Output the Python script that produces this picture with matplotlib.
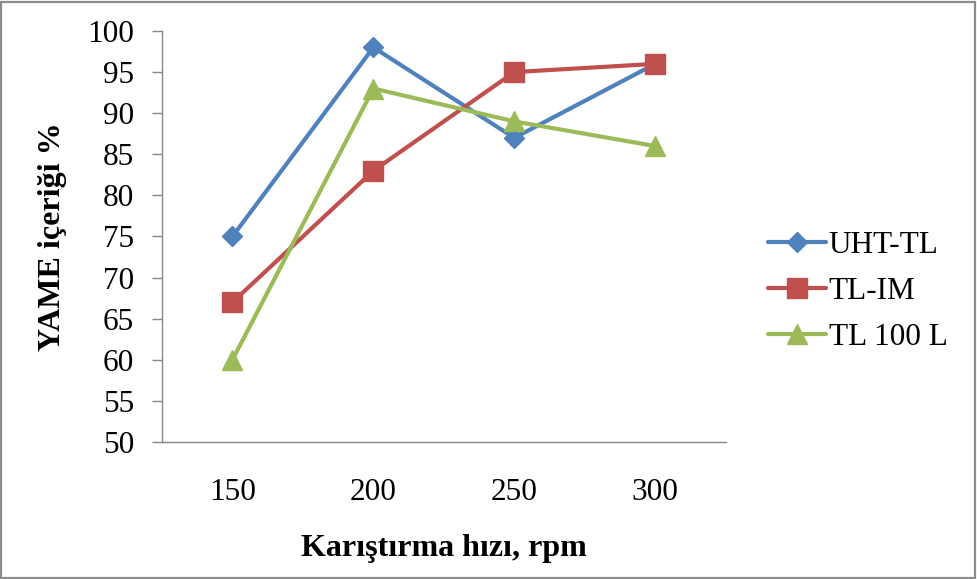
import matplotlib
matplotlib.use("Agg")
import matplotlib.pyplot as plt
from matplotlib.patches import Rectangle

# stirring speed (rpm) vs. FAME content for three lipase preparations
speeds = ["150", "200", "250", "300"]
uht_tl = [75, 98, 87, 96]
tl_im = [67, 83, 95, 96]
tl_100l = [60, 93, 89, 86]
series_names = ["UHT-TL", "TL-IM", "TL 100 L"]
y_ticks = [50, 55, 60, 65, 70, 75, 80, 85, 90, 95, 100]

COLORS = ["#4F81BD", "#C0504D", "#9BBB59"]
MARKERS = [("D", 10.5), ("s", 14), ("^", 14)]
FS = 22.5

plt.rcParams["font.family"] = ["Liberation Serif", "DejaVu Serif"]

fig = plt.figure(figsize=(9.77, 5.79), dpi=100)
ax = fig.add_axes([0.1658, 0.2366, 0.577, 0.7099])

x = list(range(len(speeds)))
for vals, name, col, (mk, ms) in zip([uht_tl, tl_im, tl_100l], series_names, COLORS, MARKERS):
    ax.plot(x, vals, color=col, lw=3.0, marker=mk, markersize=ms,
            markerfacecolor=col, markeredgecolor=col, label=name, solid_capstyle="round")

ax.set_xlim(-0.5, len(speeds) - 0.5)
ax.set_ylim(50, 100)
ax.set_xticks(x)
ax.set_xticklabels(speeds)
ax.set_yticks(y_ticks)

for side in ("top", "right"):
    ax.spines[side].set_visible(False)
for side in ("left", "bottom"):
    ax.spines[side].set_color("#868686")
    ax.spines[side].set_linewidth(1.0)

ax.tick_params(axis="y", direction="out", length=7, width=1.0, color="#868686",
               labelsize=FS, pad=13)
ax.tick_params(axis="x", length=0, labelsize=FS, pad=26)

ax.set_xlabel("Karıştırma hızı, rpm", fontsize=23, fontweight="bold", labelpad=19)
ax.set_ylabel("YAME içeriği %", fontsize=23, fontweight="bold", labelpad=15)

fig.legend(loc="center left", bbox_to_anchor=(0.786, 0.497), frameon=False,
           fontsize=FS, handlelength=1.85, handletextpad=0.1, labelspacing=0.55,
           borderpad=0, borderaxespad=0)

# thin grey frame around the whole chart area
fig.patches.append(Rectangle((0.001, 0.002), 0.997, 0.995, transform=fig.transFigure,
                             fill=False, edgecolor="#8c8c8c", lw=1.6))

fig.savefig("out.png", dpi=100)
